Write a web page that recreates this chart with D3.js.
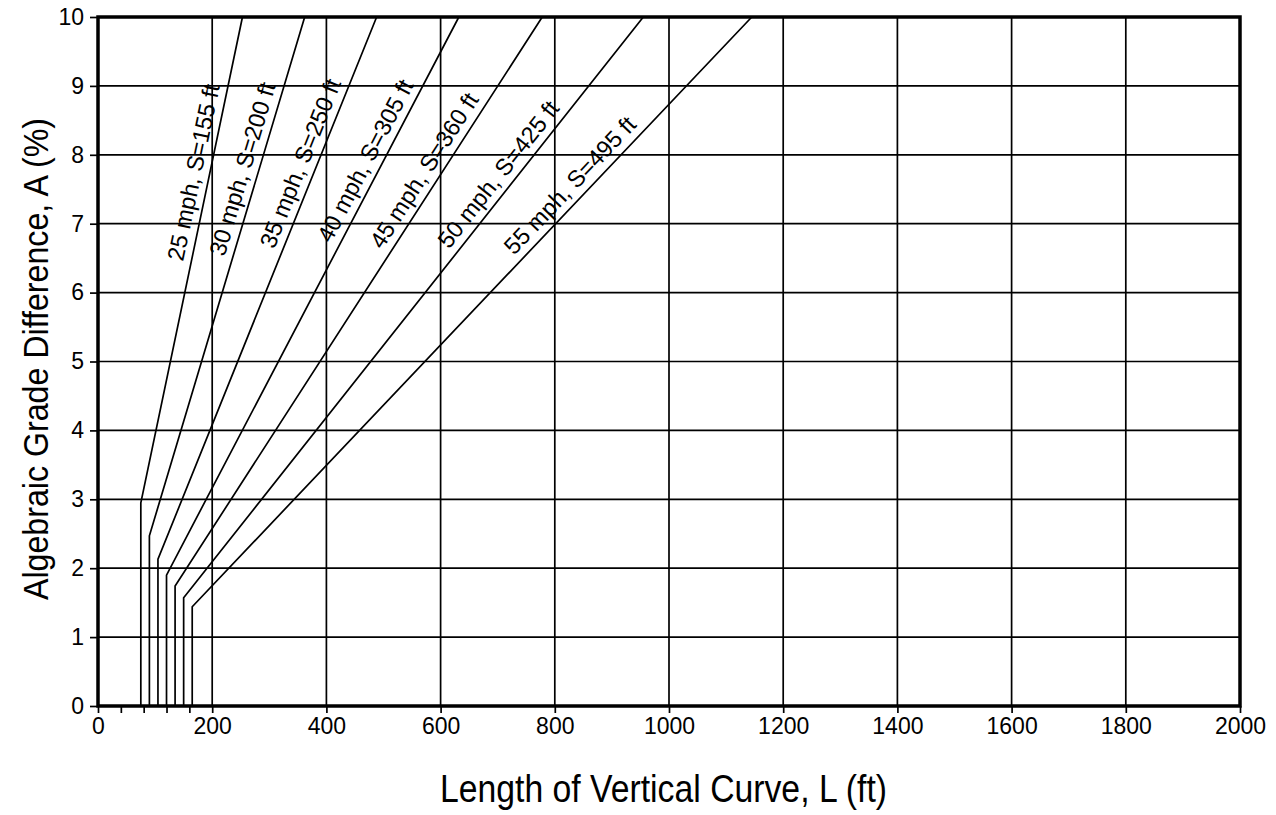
<!DOCTYPE html>
<html>
<head>
<meta charset="utf-8">
<script src="https://cdn.jsdelivr.net/npm/d3@7"></script>
<style>
  body { margin: 0; background: #fff; }
  svg text { font-family: "Liberation Sans", Arial, sans-serif; fill: #000; }
</style>
</head>
<body>
<div class="chart_container"></div>
<script>
var width = 1276
var height = 815
var margin = {left: 98, top: 17, right: 36, bottom: 109}
var plotW = width - margin.left - margin.right
var plotH = height - margin.top - margin.bottom

// design speeds and stopping sight distances
var speeds = [25, 30, 35, 40, 45, 50, 55]
var sightDist = [155, 200, 250, 305, 360, 425, 495]
// minimum curve length (vertical part of each line)
var minLength = [75, 90, 105, 120, 135, 150, 165]
// A where the vertical part bends into the sloped part
var breakA = [2.95, 2.47, 2.13, 1.9, 1.74, 1.57, 1.44]
// L where each sloped part meets A = 10
var topL = [253, 362, 488, 632, 778, 955, 1145]
// A where each label starts along its line
var labelA = [6.42, 6.48, 6.58, 6.65, 6.55, 6.55, 6.45]

var xTicks = [0, 40, 80, 120, 160, 200, 400, 600, 800, 1000, 1200, 1400, 1600, 1800, 2000]
var xLabels = [0, 200, 400, 600, 800, 1000, 1200, 1400, 1600, 1800, 2000]
var yTicks = [0, 1, 2, 3, 4, 5, 6, 7, 8, 9, 10]

var svg = d3.select(".chart_container").append("svg")
            .attr("width", width)
            .attr("height", height)

var g = svg.append("g")
           .attr("transform", "translate(" + margin.left + "," + margin.top + ")")

var scaleL = d3.scaleLinear().domain([0, 2000]).range([0, plotW])
var scaleA = d3.scaleLinear().domain([0, 10]).range([plotH, 0])

// grid
g.append("g").selectAll("line")
  .data(xLabels.filter(function(d) { return d > 0 && d < 2000 }))
  .enter().append("line")
  .attr("x1", scaleL).attr("x2", scaleL)
  .attr("y1", 0).attr("y2", plotH)
  .style("stroke", "#000").style("stroke-width", 1.7)

g.append("g").selectAll("line")
  .data(yTicks.filter(function(d) { return d > 0 && d < 10 }))
  .enter().append("line")
  .attr("y1", scaleA).attr("y2", scaleA)
  .attr("x1", 0).attr("x2", plotW)
  .style("stroke", "#000").style("stroke-width", 1.7)

// axes
var axisBottom = d3.axisBottom(scaleL)
                   .tickValues(xTicks)
                   .tickSize(7)
                   .tickPadding(5)
                   .tickFormat(function(d) { return xLabels.indexOf(d) >= 0 ? d : "" })

var axisLeft = d3.axisLeft(scaleA)
                 .tickValues(yTicks)
                 .tickSize(8)
                 .tickPadding(6)

var xAxis = g.append("g")
  .attr("transform", "translate(0," + plotH + ")")
  .call(axisBottom)

var yAxis = g.append("g")
  .call(axisLeft)

;[xAxis, yAxis].forEach(function(ax) {
  ax.select(".domain").remove()
  ax.selectAll("line").style("stroke", "#000").style("stroke-width", 1.7)
  ax.selectAll("text")
    .style("font-family", "'Liberation Sans', Arial, sans-serif")
    .style("font-size", "23px")
    .style("fill", "#000")
})

// curves
var curves = speeds.map(function(s, i) {
  return {
    speed: s,
    sight: sightDist[i],
    pts: [[minLength[i], 0], [minLength[i], breakA[i]], [topL[i], 10]],
    labelA: labelA[i]
  }
})

var line = d3.line()
  .x(function(p) { return scaleL(p[0]) })
  .y(function(p) { return scaleA(p[1]) })

g.append("g").selectAll("path")
  .data(curves)
  .enter().append("path")
  .attr("d", function(d) { return line(d.pts) })
  .style("fill", "none")
  .style("stroke", "#000")
  .style("stroke-width", 1.7)

// labels along the sloped part
g.append("g").selectAll("text")
  .data(curves)
  .enter().append("text")
  .attr("transform", function(d) {
    var p1 = d.pts[1], p2 = d.pts[2]
    var x1 = scaleL(p1[0]), y1 = scaleA(p1[1])
    var x2 = scaleL(p2[0]), y2 = scaleA(p2[1])
    var ang = Math.atan2(y2 - y1, x2 - x1)
    var t = (d.labelA - p1[1]) / (p2[1] - p1[1])
    var x = x1 + t * (x2 - x1)
    var y = y1 + t * (y2 - y1)
    // shift to the upper-left side of the line
    var off = 8
    x += Math.sin(ang) * off
    y -= Math.cos(ang) * off
    return "translate(" + x + "," + y + ") rotate(" + (ang * 180 / Math.PI) + ")"
  })
  .style("font-size", "23.5px")
  .text(function(d) { return d.speed + " mph, S=" + d.sight + " ft" })

// frame
g.append("rect")
  .attr("x", 0).attr("y", 0)
  .attr("width", plotW).attr("height", plotH)
  .style("fill", "none")
  .style("stroke", "#000")
  .style("stroke-width", 3.5)

// axis titles
svg.append("text")
  .attr("x", 663.5)
  .attr("y", 802)
  .attr("text-anchor", "middle")
  .attr("textLength", 447)
  .attr("lengthAdjust", "spacingAndGlyphs")
  .style("font-size", "39px")
  .text("Length of Vertical Curve, L (ft)")

svg.append("text")
  .attr("transform", "translate(48,359) rotate(-90)")
  .attr("text-anchor", "middle")
  .attr("textLength", 482)
  .attr("lengthAdjust", "spacingAndGlyphs")
  .style("font-size", "35px")
  .text("Algebraic Grade Difference, A (%)")
</script>
</body>
</html>
